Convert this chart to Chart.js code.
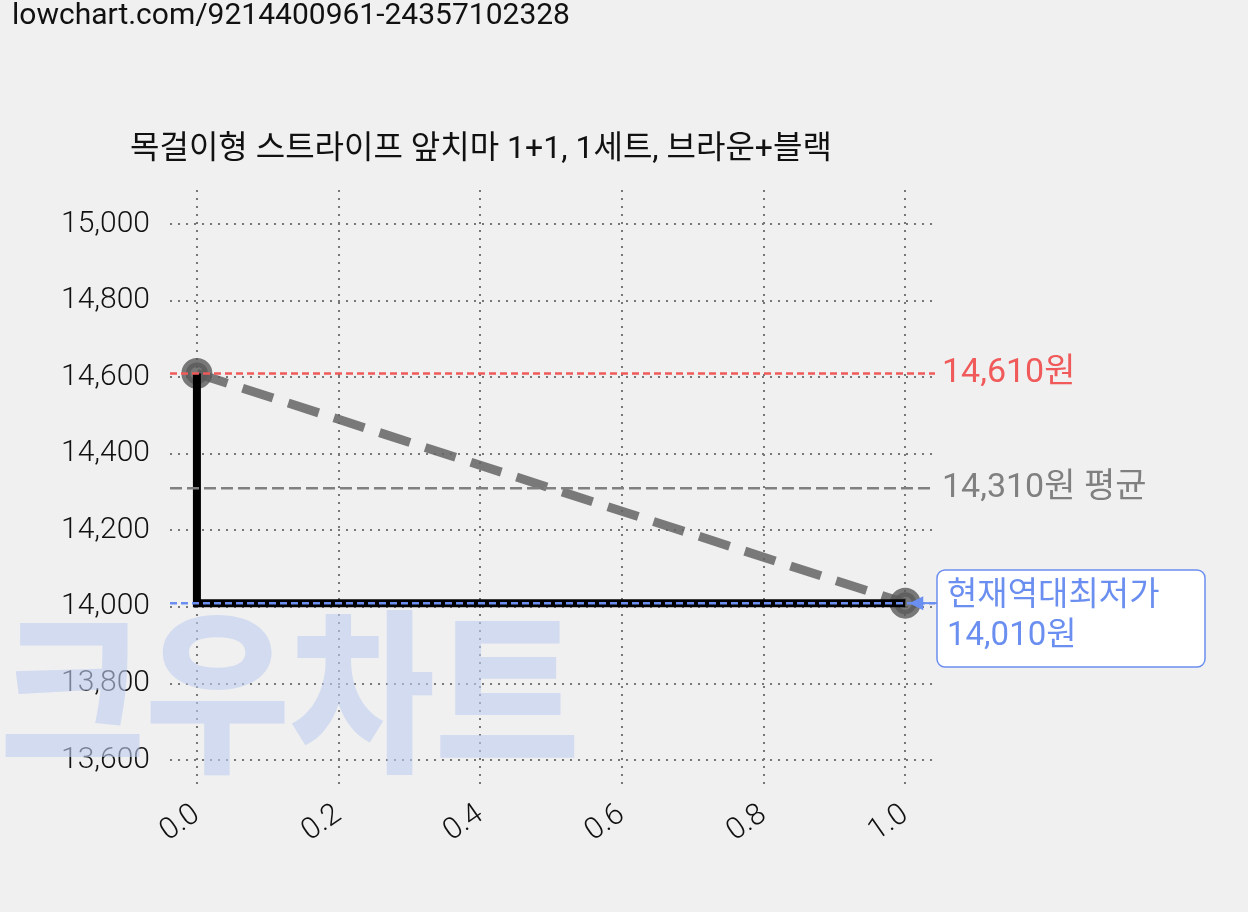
<!DOCTYPE html>
<html><head><meta charset="utf-8">
<script src="https://cdn.jsdelivr.net/npm/chart.js@4"></script>
<style>html,body{margin:0;background:#f0f0f0}canvas{display:block}</style>
</head><body>
<canvas id="c" width="1248" height="912"></canvas>
<script>
// Data
const priceX = [0, 0, 1];
const priceY = [14610, 14010, 14010];
const trendX = [0, 1];
const trendY = [14610, 14010];
const maxPrice = 14610, avgPrice = 14310, minPrice = 14010;
const xMin = -0.038, xMax = 1.042;
const yTicks = [13600, 13800, 14000, 14200, 14400, 14600, 14800, 15000];
const title = '목걸이형 스트라이프 앞치마 1+1, 1세트, 브라운+블랙';
const FONT = 'Roboto, "Noto Sans CJK KR", sans-serif';

const pts = (xs, ys) => xs.map((x, i) => ({x, y: ys[i]}));
const hline = v => [{x: xMin, y: v}, {x: xMax, y: v}];

const extras = {
    id: 'extras',
    beforeDatasetsDraw(chart) {
        const c = chart.ctx;
        c.save();
        c.fillStyle = 'rgba(190,205,240,0.6)';
        c.font = '900 175px "Noto Sans CJK KR"';
        c.translate(0, 758);
        c.scale(0.9, 1);
        c.fillText('크우차트', 0, 0);
        c.restore();
    },
    afterDraw(chart) {
        const c = chart.ctx, y = chart.scales.y, x = chart.scales.x;
        c.save();
        c.fillStyle = '#111';
        c.font = '30px ' + FONT;
        c.textBaseline = 'middle';
        c.fillText('lowchart.com/9214400961-24357102328', 12, 16);
        c.font = '32px ' + FONT;
        c.fillText(title, 130, 150);
        c.font = '34px ' + FONT;
        c.fillStyle = '#f05a5a';
        c.fillText('14,610원', 942, y.getPixelForValue(maxPrice));
        c.fillStyle = '#808080';
        c.fillText('14,310원 평균', 942, y.getPixelForValue(avgPrice));
        // annotation box
        const bx = 937, by = 570, bw = 268, bh = 97;
        c.fillStyle = '#fff';
        c.strokeStyle = '#6b8ff0';
        c.lineWidth = 1.5;
        c.beginPath();
        c.roundRect(bx, by, bw, bh, 8);
        c.fill(); c.stroke();
        c.fillStyle = '#6b8ff0';
        c.font = '33px ' + FONT;
        c.fillText('현재역대최저가', 947, 597);
        c.fillText('14,010원', 947, 637);
        // arrow
        const py = y.getPixelForValue(minPrice), px = x.getPixelForValue(1);
        c.strokeStyle = '#6b8ff0'; c.lineWidth = 2;
        c.beginPath(); c.moveTo(937, py); c.lineTo(px + 8, py); c.stroke();
        c.beginPath(); c.moveTo(px + 4, py); c.lineTo(px + 18, py - 7); c.lineTo(px + 18, py + 7); c.closePath(); c.fill();
        c.restore();
    }
};

const gridOpts = {color: '#777', lineWidth: 2, drawTicks: false};
const borderOpts = {display: false, dash: [2, 6]};

new Chart(document.getElementById('c'), {
    type: 'scatter',
    data: {
        datasets: [
            {data: hline(maxPrice), showLine: true, borderColor: '#f05a5a', borderWidth: 2.5, borderDash: [7, 4], pointRadius: 0},
            {data: hline(avgPrice), showLine: true, borderColor: '#808080', borderWidth: 2.5, borderDash: [12, 5], pointRadius: 0},
            {data: hline(minPrice), showLine: true, borderColor: '#6b8ff0', borderWidth: 2.5, borderDash: [7, 4], pointRadius: 0},
            {data: pts(priceX, priceY), showLine: true, borderColor: '#000', borderWidth: 8, pointRadius: 0},
            {data: pts(trendX, trendY), showLine: true, borderColor: 'rgba(100,100,100,0.85)', borderWidth: 9,
             borderDash: [32, 16], pointRadius: 11, pointBackgroundColor: 'rgba(90,90,90,0.8)', pointBorderColor: 'rgba(90,90,90,0.8)'}
        ]
    },
    options: {
        responsive: false, animation: false,
        layout: {padding: {left: 0, right: 313, top: 190, bottom: 0}},
        plugins: {legend: {display: false}, tooltip: {enabled: false}},
        scales: {
            x: {
                type: 'linear', min: xMin, max: xMax,
                afterFit: s => { s.height = 127; },
                afterBuildTicks: s => { s.ticks = [0, 0.2, 0.4, 0.6, 0.8, 1].map(v => ({value: v})); },
                border: borderOpts, grid: gridOpts,
                ticks: {color: '#111', font: {family: FONT, size: 30, weight: 300}, maxRotation: 35, minRotation: 35,
                        padding: 12, callback: v => v.toFixed(1)}
            },
            y: {
                min: 13535, max: 15089,
                afterFit: s => { s.width = 170; },
                afterBuildTicks: s => { s.ticks = yTicks.map(v => ({value: v})); },
                border: borderOpts, grid: gridOpts,
                ticks: {color: '#111', font: {family: FONT, size: 30, weight: 300}, padding: 20,
                        callback: v => v.toLocaleString('en-US')}
            }
        }
    },
    plugins: [extras]
});
</script>
</body></html>
